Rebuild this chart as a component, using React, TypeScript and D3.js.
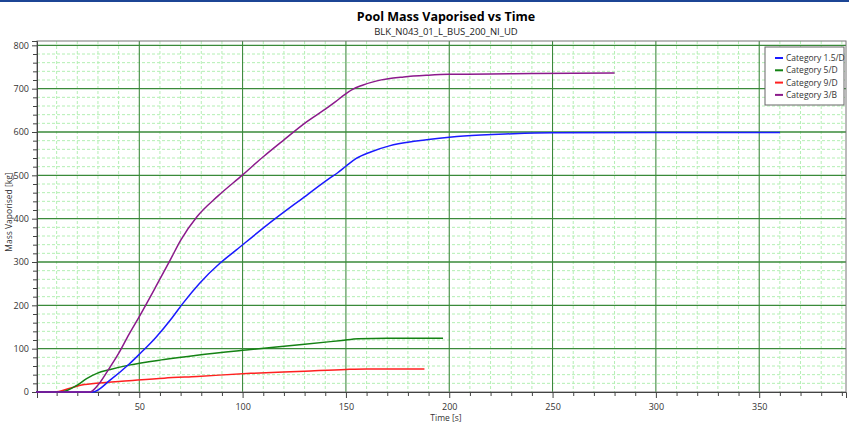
import React, { useEffect, useRef } from "react";
import * as d3 from "d3";

// values (time [s], mass [kg])
const cat15D: [number, number][] = [
  [0, 0], [27.5, 0], [36, 28], [45, 64], [50, 87], [58, 126], [66, 172], [71, 204],
  [79, 250], [89, 297], [97, 328], [115, 397], [129, 447], [142, 493],
  [146, 506], [150, 521], [155, 539], [162, 554], [171, 568], [184, 579], [200, 588],
  [207, 591], [231, 596], [250, 598], [300, 599], [360, 599],
];
const cat5D: [number, number][] = [
  [0, 0], [12, 0], [20, 16], [24.5, 31], [29.5, 43], [36, 52], [45, 62], [62, 75],
  [78, 85], [104, 98], [130, 110], [148, 119], [156, 123], [170, 124], [197, 124],
];
const cat9D: [number, number][] = [
  [0, 0], [9, 0], [16, 8], [21, 15], [29, 20], [45, 26], [62, 32], [78, 36],
  [104, 43], [130, 48], [150, 52], [160, 53], [188, 53],
];
const cat3B: [number, number][] = [
  [0, 0], [26, 0], [30, 16], [35, 51], [40, 89], [45, 133], [50, 174], [58, 243],
  [65, 305], [70, 350], [78, 405], [88, 452], [100, 501], [110, 543], [120, 582],
  [130, 620], [141, 656], [145, 670], [149, 685], [153, 698], [158, 708], [165, 718],
  [178, 727], [190, 731], [200, 733], [240, 735], [280, 736],
];

const seriesNames = ["Category 1.5/D", "Category 5/D", "Category 9/D", "Category 3/B"];
const seriesColors = ["#1a1aff", "#148214", "#ff2020", "#8b1a8b"];
const xTicks = [50, 100, 150, 200, 250, 300, 350];
const yTicks = [0, 100, 200, 300, 400, 500, 600, 700, 800];

function drawChart(el: SVGSVGElement) {
  const W = 849;
  const H = 427;
  const margin = { top: 41, right: 3, bottom: 35, left: 37 };
  const width = W - margin.left - margin.right;
  const height = H - margin.top - margin.bottom;
  const font = "'Open Sans', 'Noto Sans', sans-serif";

  const svg = d3.select(el);
  svg.selectAll("*").remove();

  // blue strip on top of the window
  svg.append("rect").attr("x", 0).attr("y", 0).attr("width", W).attr("height", 2).attr("fill", "#1c4595");

  svg
    .append("text")
    .attr("x", 446)
    .attr("y", 21)
    .attr("text-anchor", "middle")
    .style("font-family", font)
    .style("font-weight", "bold")
    .style("font-size", "12.5px")
    .attr("fill", "#000")
    .text("Pool Mass Vaporised vs Time");

  svg
    .append("text")
    .attr("x", 446)
    .attr("y", 35)
    .attr("text-anchor", "middle")
    .style("font-family", font)
    .style("font-size", "9.5px")
    .attr("fill", "#222")
    .text("BLK_N043_01_L_BUS_200_NI_UD");

  const g = svg.append("g").attr("transform", `translate(${margin.left},${margin.top})`);

  const xScale = d3.scaleLinear().domain([0.5, 392]).range([0, width]);
  const yScale = d3.scaleLinear().domain([0, 810]).range([height, 0]);

  // minor grid (dashed light green)
  const xMinor = d3.range(10, 392, 10).filter((v) => v % 50 !== 0);
  const yMinor = d3.range(20, 810, 20).filter((v) => v % 100 !== 0);
  g.append("g")
    .selectAll("line")
    .data(xMinor)
    .join("line")
    .attr("x1", (d) => xScale(d))
    .attr("x2", (d) => xScale(d))
    .attr("y1", 0)
    .attr("y2", height)
    .attr("stroke", "#b4efb4")
    .attr("stroke-dasharray", "3,2");
  g.append("g")
    .selectAll("line")
    .data(yMinor)
    .join("line")
    .attr("x1", 0)
    .attr("x2", width)
    .attr("y1", (d) => yScale(d))
    .attr("y2", (d) => yScale(d))
    .attr("stroke", "#b4efb4")
    .attr("stroke-dasharray", "3,2");

  // major grid
  g.append("g")
    .selectAll("line")
    .data(xTicks)
    .join("line")
    .attr("x1", (d) => xScale(d))
    .attr("x2", (d) => xScale(d))
    .attr("y1", 0)
    .attr("y2", height)
    .attr("stroke", "#2f7f2f")
    .attr("stroke-width", 1);
  g.append("g")
    .selectAll("line")
    .data(yTicks.filter((d) => d > 0))
    .join("line")
    .attr("x1", 0)
    .attr("x2", width)
    .attr("y1", (d) => yScale(d))
    .attr("y2", (d) => yScale(d))
    .attr("stroke", "#3a8a3a")
    .attr("stroke-width", 1.3);

  // plot frame
  g.append("rect")
    .attr("x", 0)
    .attr("y", 0)
    .attr("width", width)
    .attr("height", height)
    .attr("fill", "none")
    .attr("stroke", "#777")
    .attr("stroke-width", 1);

  // axes
  const xAxis = g
    .append("g")
    .attr("transform", `translate(0,${height})`)
    .call(d3.axisBottom(xScale).tickValues(xTicks).tickSize(6).tickPadding(6));
  g.append("g")
    .attr("transform", `translate(0,${height})`)
    .call(d3.axisBottom(xScale).tickValues(xMinor).tickSize(4).tickFormat(() => ""))
    .call((s) => s.select(".domain").remove());
  const yAxis = g.append("g").call(d3.axisLeft(yScale).tickValues(yTicks).tickSize(5).tickPadding(3));
  g.append("g")
    .call(d3.axisLeft(yScale).tickValues(yMinor).tickSize(4).tickFormat(() => ""))
    .call((s) => s.select(".domain").remove());

  [xAxis, yAxis].forEach((a) => {
    a.selectAll("text").style("font-family", font).style("font-size", "9px").attr("fill", "#333");
  });
  g.selectAll(".domain").attr("stroke", "#444");
  g.selectAll(".tick line").attr("stroke", "#444");

  // axis titles
  svg
    .append("text")
    .attr("x", 446)
    .attr("y", 421)
    .attr("text-anchor", "middle")
    .style("font-family", font)
    .style("font-size", "8.5px")
    .attr("fill", "#333")
    .text("Time [s]");
  svg
    .append("text")
    .attr("text-anchor", "middle")
    .attr("transform", "translate(12,212)rotate(-90)")
    .style("font-family", font)
    .style("font-size", "8.5px")
    .attr("fill", "#333")
    .text("Mass Vaporised [kg]");

  // lines
  const line = d3
    .line<[number, number]>()
    .x((d) => xScale(d[0]))
    .y((d) => yScale(d[1]))
    .curve(d3.curveMonotoneX);
  const allSeries = [cat15D, cat5D, cat9D, cat3B];
  const drawOrder = [2, 1, 0, 3];
  drawOrder.forEach((i) => {
    g.append("path")
      .datum(allSeries[i])
      .attr("d", line)
      .style("fill", "none")
      .style("stroke", seriesColors[i])
      .style("stroke-width", "1.5");
  });

  // legend
  const lg = svg.append("g").attr("transform", "translate(765,47)");
  lg.append("rect")
    .attr("width", 79)
    .attr("height", 58)
    .attr("fill", "#fff")
    .attr("stroke", "#666");
  seriesNames.forEach((name, i) => {
    const yy = 11 + i * 12.3;
    lg.append("line")
      .attr("x1", 10)
      .attr("x2", 18)
      .attr("y1", yy)
      .attr("y2", yy)
      .attr("stroke", seriesColors[i])
      .attr("stroke-width", 2);
    lg.append("text")
      .attr("x", 21)
      .attr("y", yy + 3)
      .style("font-family", font)
      .style("font-size", "8.5px")
      .attr("fill", "#333")
      .text(name);
  });
}

const App = () => {
  const svgRef = useRef<SVGSVGElement>(null);
  useEffect(() => {
    document.body.style.margin = "0";
    if (svgRef.current) drawChart(svgRef.current);
  }, []);

  return <svg ref={svgRef} width={849} height={427} style={{ display: "block", background: "#fff" }} />;
};

export default App;
